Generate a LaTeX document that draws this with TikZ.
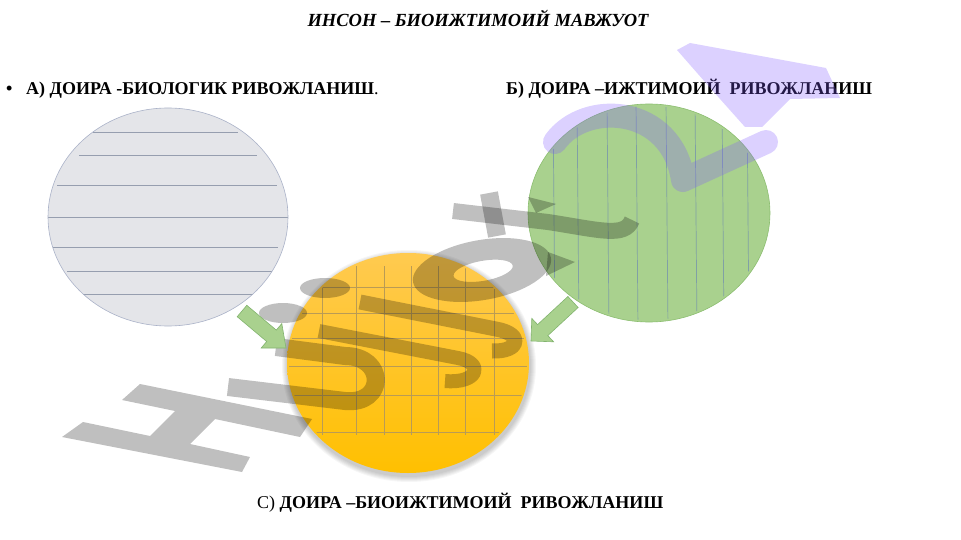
\documentclass[tikz,border=0pt]{standalone}
\usepackage{fontspec}
\setmainfont{Liberation Serif}
\definecolor{circgray}{RGB}{228,229,233}
\definecolor{circgrayedge}{RGB}{170,178,200}
\definecolor{grayline}{RGB}{150,158,175}
\definecolor{circgreen}{RGB}{169,209,142}
\definecolor{circgreenedge}{RGB}{140,190,112}
\definecolor{greenline}{RGB}{128,160,165}
\definecolor{orangetop}{RGB}{255,202,80}
\definecolor{orangebot}{RGB}{255,192,0}
\definecolor{gridline}{RGB}{185,155,85}
\definecolor{arrowfill}{RGB}{169,209,142}
\definecolor{arrowedge}{RGB}{130,180,110}
\definecolor{ghostpurple}{RGB}{130,90,255}
\begin{document}
\begin{tikzpicture}[x=1pt,y=-1pt,
  lbl/.style={inner sep=0pt, anchor=base west, font=\bfseries\fontsize{18}{21}\selectfont},
  ghost/.style={fill=black, fill opacity=0.25, draw=none},
  ghoststroke/.style={draw=black, draw opacity=0.25, line join=round},
  purpleghost/.style={fill=ghostpurple, fill opacity=0.28, draw=none},
  purplestroke/.style={draw=ghostpurple, draw opacity=0.28, line join=round},
  blockarrow/.style={fill=arrowfill, draw=arrowedge, line width=0.6pt}]
\useasboundingbox (0,0) rectangle (961,540);
\fill[white] (0,0) rectangle (961,540);

% ---- circle A : biological ----
\coordinate (cA) at (168,217);
\fill[circgray] (cA) ellipse [x radius=120pt, y radius=109pt];
\foreach \ya/\xl/\xr in {132/93/238, 155/79/257, 185/57/277, 217/48/288, 247/53/278, 271/67/272, 294/83/253}
  \draw[grayline, line width=0.7pt] (\xl,\ya) -- (\xr,\ya);
\draw[circgrayedge, line width=0.6pt] (cA) ellipse [x radius=120pt, y radius=109pt];

% ---- circle B : social ----
\coordinate (cB) at (649,213);
\fill[circgreen] (cB) ellipse [x radius=121pt, y radius=109pt];
\begin{scope}
  \clip (cB) ellipse [x radius=119pt, y radius=107pt];
  \foreach \x in {553,577,607,636,666,695,722,747}
    \draw[greenline, line width=0.7pt] (\x,100) -- (\x+2,330);
\end{scope}
\draw[circgreenedge, line width=0.6pt] (cB) ellipse [x radius=121pt, y radius=109pt];

% ---- circle C : biosocial ----
\coordinate (cC) at (408,363);
\foreach \r in {1,...,6}
  \fill[black, opacity=0.035] (409,366) ellipse [x radius=121pt+\r pt, y radius=110pt+\r pt];
\shade[top color=orangetop, bottom color=orangebot] (cC) ellipse [x radius=121pt, y radius=110pt];
\begin{scope}
  \clip (cC) ellipse [x radius=119pt, y radius=108pt];
  \foreach \x in {322,356,384,411,438,465,494}
    \draw[gridline, line width=0.6pt] (\x,266) -- (\x,435);
  \foreach \y in {287,313,338,366,395,432}
    \draw[gridline, line width=0.6pt] (288,\y) -- (528,\y);
\end{scope}

% ---- labels ----
\node[inner sep=0pt, anchor=base, font=\bfseries\itshape\fontsize{18.5}{21}\selectfont] (title) at (478,27) {ИНСОН – БИОИЖТИМОИЙ МАВЖУОТ};
\node[lbl] (bullet) at (6,95) {•};
\node[lbl] (labA) at (26,95) {А) ДОИРА -БИОЛОГИК РИВОЖЛАНИШ{\mdseries .}};
\node[lbl] (labB) at (506,95) {Б) ДОИРА –ИЖТИМОИЙ\ \ РИВОЖЛАНИШ};
\node[lbl] (labC) at (257,508) {{\mdseries С)} ДОИРА –БИОИЖТИМОИЙ\ \ РИВОЖЛАНИШ};

% ---- watermark word (grey, translucent) ----
% H
\fill[ghost] (62,437) -- (83,422) -- (150,436) -- (175,411) -- (122,400) -- (140,384)
  -- (312,419) -- (300,437) -- (215,419) -- (190,444) -- (250,457) -- (242,472) -- cycle;
% u
\draw[ghoststroke, line width=18pt] (228,387) -- (345,401) .. controls (386,405) and (386,356) .. (345,356) -- (276,347);
% dots
\fill[ghost] (325,288) ellipse [x radius=25pt, y radius=10pt];
\fill[ghost] (283,313) ellipse [x radius=24pt, y radius=10pt];
% strokes with hooks
\draw[ghoststroke, line width=14pt] (319,331) -- (458,358) .. controls (485,363) and (478,384) .. (445,381);
\draw[ghoststroke, line width=15pt] (360,302) -- (496,329) .. controls (524,334) and (520,352) .. (492,351);
% ring
\fill[ghost, even odd rule] [rotate around={10:(482,270)}] (482,270) ellipse [x radius=70pt, y radius=30pt]
  (483,271) ellipse [x radius=30pt, y radius=10pt];
\fill[ghost] (548,252) -- (575,262) -- (546,276) -- cycle;
% t
\draw[ghoststroke, line width=16pt] (453,211) -- (548,222) .. controls (600,230) and (625,238) .. (632,220);
\draw[ghoststroke, line width=18pt] (489,193) -- (497,236);
\fill[ghost] (528,197) -- (556,204) -- (536,213) -- cycle;
% purple letter
\fill[purpleghost] (677,50) -- (690,43) -- (826,68) -- (840,98) -- (790,99) -- (762,127) -- (745,127) -- (712,90) -- cycle;
\draw[purplestroke, line width=24pt, line cap=round] (555,142) .. controls (585,100) and (672,105) .. (683,180) -- (766,142);

% ---- block arrows ----
\coordinate (aL1) at (237.2,316.7);
\coordinate (aL2) at (246.8,305.3);
\coordinate (aL3) at (276.3,330.1);
\coordinate (aL4) at (281.8,323.6);
\coordinate (aLtip) at (286,348);
\coordinate (aL5) at (261.2,348.0);
\coordinate (aL6) at (266.7,341.5);
\fill[blockarrow] (aL1) -- (aL2) -- (aL3) -- (aL4) -- (aLtip) -- (aL5) -- (aL6) -- cycle;
\coordinate (aR1) at (578.1,307.5);
\coordinate (aR2) at (567.9,296.5);
\coordinate (aR3) at (537.6,324.6);
\coordinate (aR4) at (531.8,318.4);
\coordinate (aRtip) at (531,341);
\coordinate (aR5) at (553.6,341.8);
\coordinate (aR6) at (547.8,335.6);
\fill[blockarrow] (aR1) -- (aR2) -- (aR3) -- (aR4) -- (aRtip) -- (aR5) -- (aR6) -- cycle;
\end{tikzpicture}
\end{document}
